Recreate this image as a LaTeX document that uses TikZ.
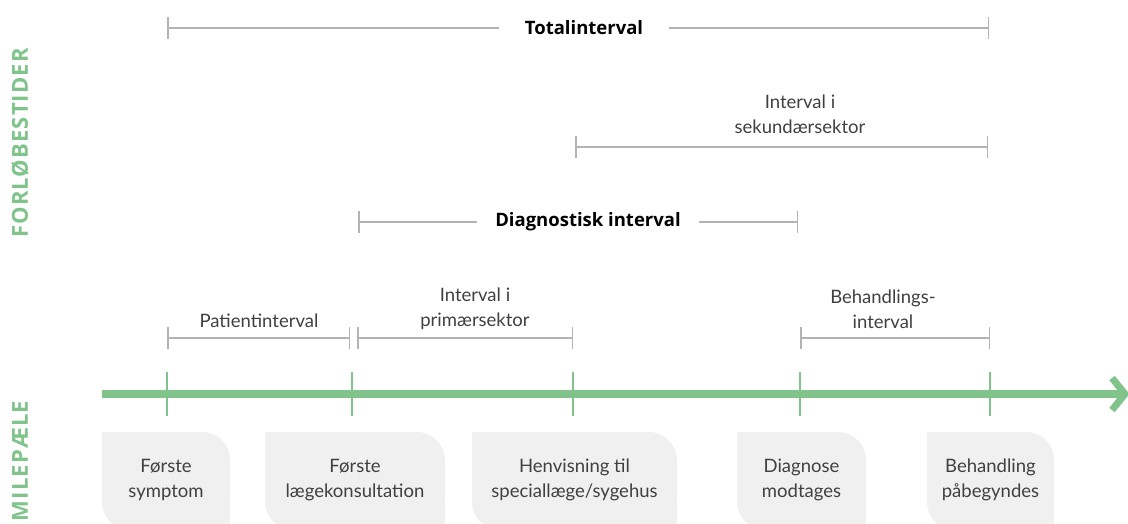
\documentclass[tikz,border=0pt]{standalone}
\usepackage{fontspec}
\setmainfont{Lato}
\newfontfamily\boldfam{Open Sans}
\newfontfamily\sidefam{Open Sans}[LetterSpace=5]
\usetikzlibrary{arrows.meta}
\definecolor{grn}{HTML}{80C38B}
\definecolor{ivgray}{HTML}{B3B3B3}
\definecolor{boxgray}{HTML}{F0F0F0}
\definecolor{txt}{HTML}{404040}
\tikzset{
  axisline/.style={grn, line width=7.5pt},
  mstick/.style={grn, line width=2pt},
  ivline/.style={ivgray, line width=1.5pt, {Bar[width=22pt,line width=1.5pt]}-{Bar[width=22pt,line width=1.5pt]}},
  boxtext/.style={align=center, text=txt, font=\fontsize{18.5}{25}\selectfont, inner sep=0pt},
  ivtext/.style={align=center, text=txt, font=\fontsize{18.5}{25}\selectfont, inner sep=0pt},
  boldtext/.style={fill=white, text=black, font=\boldfam\fontsize{18.5}{22}\selectfont\bfseries, inner ysep=4pt},
  sidetext/.style={rotate=90, text=grn, font=\sidefam\fontsize{22}{24}\selectfont\bfseries, inner sep=0pt},
}
\newcommand\msbox[2]{%
  \fill[boxgray, rounded corners=28pt] (#1,432) rectangle (#2,530);
  \fill[boxgray] (#1,432) rectangle ({#1+32},466);
  \fill[boxgray] ({#2-32},490) rectangle (#2,530);
}
\begin{document}
\begin{tikzpicture}[x=1pt,y=-1pt]
\useasboundingbox (0,0) rectangle (1128,523);
\clip (0,0) rectangle (1128,523);

% side labels
\node[sidetext] (forl) at (20,143) {FORLØBESTIDER};
\node[sidetext] (mile) at (20,461) {MILEPÆLE};

% milestone boxes
\msbox{102}{230}
\msbox{265}{445}
\msbox{472}{677}
\msbox{737}{866}
\msbox{927}{1054}
\node[boxtext] (b1) at (166,480) {Første\\symptom};
\node[boxtext] (b2) at (355,480) {Første\\lægekonsultation};
\node[boxtext] (b3) at (574.5,480) {Henvisning til\\speciallæge/sygehus};
\node[boxtext] (b4) at (801.5,480) {Diagnose\\modtages};
\node[boxtext] (b5) at (990.5,480) {Behandling\\påbegyndes};

% axis
\coordinate (axs) at (102,394);
\coordinate (axe) at (1123,394);
\draw[axisline] (axs) -- (axe);
\draw[grn, line width=7pt, line join=miter] (1112,378) -- (1125,394) -- (1112,410);
\foreach \n/\x in {m1/167, m2/352, m3/573, m4/800, m5/990} {
  \coordinate (\n t) at (\x,372);
  \coordinate (\n b) at (\x,416);
  \draw[mstick] (\n t) -- (\n b);
}

% intervals
\coordinate (t1) at (167,28);  \coordinate (t2) at (989,28);
\draw[ivline] (t1) -- (t2);
\node[boldtext, inner xsep=26pt] (tot) at (584,28) {Totalinterval};

\coordinate (s1) at (575,147); \coordinate (s2) at (988,147);
\draw[ivline] (s1) -- (s2);
\node[ivtext] (sek) at (800,114) {Interval i\\sekundærsektor};

\coordinate (d1) at (358,222); \coordinate (d2) at (798,222);
\draw[ivline] (d1) -- (d2);
\node[boldtext, inner xsep=18pt] (dia) at (588,222) {Diagnostisk interval};

\coordinate (p1) at (167,338); \coordinate (p2) at (350,338);
\draw[ivline] (p1) -- (p2);
\node[ivtext] (pat) at (259,321) {Patientinterval};

\coordinate (q1) at (357,338); \coordinate (q2) at (573,338);
\draw[ivline] (q1) -- (q2);
\node[ivtext] (pri) at (475,309) {Interval i\\primærsektor};

\coordinate (h1) at (800,338); \coordinate (h2) at (990,338);
\draw[ivline] (h1) -- (h2);
\node[ivtext] (beh) at (883,309) {Behandlings-\\interval};
\end{tikzpicture}
\end{document}
